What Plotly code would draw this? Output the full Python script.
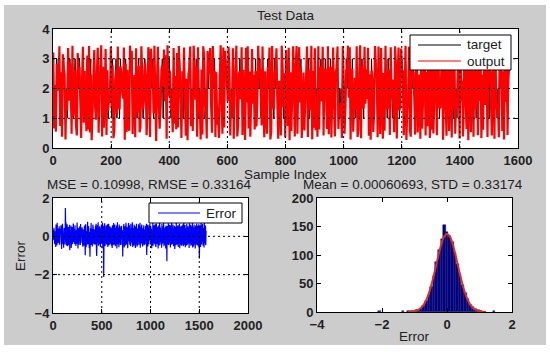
import plotly.graph_objects as go

# ---------------- data ----------------
sample_index = list(range(1, 1571, 3))

target = [
    3, 1, 2, 1, 3, 2, 2, 3, 1, 2,
    1, 3, 3, 2, 1, 2, 1, 3, 2, 3,
    2, 1, 3, 1, 2, 3, 1, 1, 3, 2,
    3, 2, 1, 2, 3, 1, 2, 2, 1, 3,
    1, 3, 2, 3, 1, 1, 2, 3, 2, 1,
    2, 3, 1, 2, 3, 3, 1, 2, 1, 2,
    3, 1, 2, 1, 2, 2, 3, 1, 3, 1,
    1, 2, 3, 1, 3, 2, 1, 3, 2, 2,
    2, 3, 1, 3, 1, 2, 1, 1, 3, 3,
    3, 1, 2, 2, 1, 3, 1, 2, 3, 1,
    1, 3, 2, 1, 2, 3, 2, 1, 1, 3,
    2, 1, 3, 2, 3, 1, 3, 2, 1, 2,
    3, 2, 1, 1, 2, 3, 1, 3, 2, 3,
    1, 3, 2, 3, 2, 1, 2, 1, 3, 1,
    2, 1, 3, 1, 3, 3, 2, 1, 2, 1,
    3, 2, 1, 2, 1, 2, 3, 3, 1, 2,
    1, 3, 2, 2, 3, 1, 3, 1, 2, 1,
    2, 1, 3, 1, 1, 2, 1, 3, 2, 3,
    3, 2, 1, 3, 2, 3, 1, 2, 1, 1,
    1, 2, 3, 2, 1, 3, 1, 3, 3, 2,
    2, 3, 2, 1, 2, 1, 3, 1, 2, 3,
    3, 1, 1, 2, 3, 2, 3, 1, 2, 1,
    1, 3, 2, 3, 1, 2, 1, 2, 3, 2,
    2, 1, 3, 1, 2, 3, 2, 3, 1, 1,
    3, 2, 1, 2, 1, 1, 3, 2, 3, 1,
    1, 3, 2, 1, 3, 2, 3, 2, 1, 2,
    2, 1, 3, 3, 1, 2, 1, 3, 2, 1,
    3, 1, 2, 1, 2, 3, 2, 1, 3, 3,
    1, 2, 3, 2, 3, 1, 1, 2, 1, 2,
    2, 3, 1, 3, 1, 2, 3, 1, 2, 1,
    3, 1, 2, 1, 3, 1, 2, 3, 2, 3,
    1, 2, 3, 2, 1, 3, 1, 2, 3, 1,
    1, 3, 2, 1, 2, 3, 3, 1, 2, 1,
    2, 1, 3, 2, 1, 1, 3, 2, 3, 2,
    3, 1, 2, 3, 1, 2, 2, 1, 3, 1,
    1, 2, 3, 1, 3, 2, 1, 3, 2, 2,
    2, 3, 1, 2, 1, 3, 2, 1, 1, 3,
    3, 2, 1, 3, 2, 1, 3, 2, 1, 2,
    1, 3, 2, 1, 3, 2, 1, 3, 2, 1,
    2, 1, 3, 3, 1, 2, 3, 1, 2, 3,
    3, 2, 1, 2, 3, 1, 1, 2, 3, 1,
    1, 3, 2, 3, 2, 1, 2, 3, 1, 2,
    2, 1, 3, 1, 2, 3, 3, 1, 2, 1,
    3, 2, 1, 2, 1, 3, 1, 2, 3, 2,
    1, 3, 3, 1, 2, 2, 3, 1, 2, 3,
    2, 1, 2, 3, 1, 3, 2, 1, 3, 1,
    3, 1, 2, 1, 3, 2, 1, 3, 2, 2,
    1, 2, 3, 2, 1, 3, 1, 2, 3, 1,
    2, 3, 1, 3, 2, 1, 2, 1, 3, 2,
    3, 1, 2, 1, 3, 2, 3, 2, 1, 3,
    1, 3, 2, 1, 2, 3, 1, 3, 2, 1,
    2, 1, 3, 2, 3, 1, 2, 1, 3, 2,
    3, 1, 2, 3,
]

# error = target - output
error = [
    -0.21, 0.34, -0.12, 0.45, 0.18, -0.38, 0.07, -0.42, 0.26, -0.55,
    0.62, -0.15, 0.33, -0.48, 0.71, 0.09, -0.27, -0.36, 0.41, 0.12,
    -0.31, 0.52, -0.44, -0.08, 0.37, 0.37, 0.23, 0.58, -0.19, -0.66,
    0.28, 0.47, 0.66, -0.35, -0.40, 0.15, -0.59, 0.31, 0.44, -0.11,
    0.38, -0.43, 1.48, 0.55, 0.74, -0.22, -0.47, -0.29, 0.63, 0.05,
    -0.52, -0.37, 0.49, 0.16, 0.42, -0.45, 0.61, -0.73, 0.32, 0.25,
    -0.33, 0.56, -0.61, -0.26, 0.19, 0.48, -0.40, -0.35, 0.22, 0.67,
    0.43, -0.29, 0.37, -0.14, -0.41, 0.58, -0.30, 0.26, -0.50, 0.11,
    0.34, -0.38, 0.72, 0.17, 0.46, -0.63, 0.29, 0.42, -0.44, 0.40,
    -0.27, 0.53, 0.06, -0.45, 0.64, -0.35, -0.18, 0.39, 0.24, 0.47,
    0.31, -0.42, -0.54, -0.29, 0.36, 0.13, -0.48, 0.57, -0.21, -0.39,
    -0.98, 0.63, -0.34, -0.57, 0.28, -0.16, -0.44, 0.41, 0.76, -0.23,
    -0.40, 0.53, 0.35, -0.47, -0.62, 0.22, -1.06, -0.31, 0.44, -0.12,
    0.69, -0.45, 0.27, 0.39, -0.53, -0.28, 0.61, 0.47, -0.36, 0.18,
    -0.42, 0.37, -0.19, 0.31, -0.43, 0.55, 0.32, 0.66, -0.58, -1.02,
    -0.38, 0.46, 0.59, -0.33, 0.74, -0.49, 0.34, -0.41, 0.27, 0.52,
    0.43, -0.44, -0.56, 0.38, 0.25, 0.62, -0.39, -0.21, 0.48, 0.71,
    -0.64, 0.55, -0.42, -2.12, -0.37, 0.44, 0.68, -0.26, -0.51, 0.35,
    -0.36, 0.57, 0.49, -0.43, -0.29, 0.41, 0.63, -0.55, 0.22, -0.34,
    0.66, -0.44, -0.45, 0.39, 0.52, -0.38, 0.31, -0.27, 0.46, -0.48,
    0.42, -0.40, -0.61, 0.58, 0.33, -0.46, -0.35, 0.69, -0.24, 0.37,
    -0.44, 0.61, 0.27, -0.52, 0.43, 0.36, -0.39, 0.56, -0.63, -0.31,
    0.73, -0.37, 0.46, -0.42, 0.34, -0.57, 0.62, 0.29, -0.33, 0.51,
    -0.45, 0.38, 0.41, 0.28, 0.55, -0.44, -0.36, 0.32, -1.05, 0.24,
    -0.41, 0.49, 0.64, -0.58, -0.27, 0.52, 0.28, -0.47, -0.38, 0.71,
    0.45, -0.43, 0.36, -0.31, 0.47, -0.62, -0.35, 0.54, 0.69, -0.26,
    0.33, 0.58, -0.44, 0.39, -0.36, -0.51, 0.65, -0.29, 0.42, 0.26,
    -0.37, 0.74, -0.55, 0.43, 0.31, -0.42, -0.48, 0.61, 0.35, -0.43,
    0.52, -0.61, -0.39, 0.47, 0.28, 0.66, -0.33, -0.54, 0.41, 0.37,
    -0.46, -0.41, 0.63, 0.36, -0.28, 0.55, -0.44, 0.71, -0.59, 0.32,
    -0.35, 0.40, 0.49, 0.62, -0.42, 0.38, -0.53, 0.27, 0.44, -0.40,
    0.58, -0.47, 0.33, 0.21, 0.36, -0.42, 0.54, -0.31, 0.27, 0.65,
    -0.97, -0.38, 0.44, 0.61, -0.53, 0.29, -0.41, 0.36, 0.57, -0.22,
    0.48, 0.66, -0.43, -0.35, 0.52, -0.27, 0.39, -0.62, -0.44, 0.31,
    -0.39, 0.71, -0.49, 0.34, 0.45, 0.58, -0.36, -0.28, -0.42, 0.63,
    0.38, -0.56, -0.45, 0.67, 0.26, 0.43, -0.33, -0.40, 0.51, -0.64,
    0.35, -0.37, 0.59, -0.48, 0.72, 0.41, -0.29, 0.46, -0.25, -0.43,
    0.33, -0.59, 0.64, -0.41, 0.47, 0.53, -0.36, 0.28, 0.69, -0.52,
    0.42, -0.44, 0.37, -0.31, 0.49, -0.63, 0.56, -0.39, 0.34, -1.30,
    0.54, 0.47, -0.42, 0.36, 0.68, -0.45, -0.38, -0.27, 0.61, -0.34,
    0.41, -0.58, 0.57, 0.33, -0.44, 0.73, -0.32, 0.46, -0.40, 0.38,
    0.62, -0.39, -0.51, 0.44, 0.29, 0.55, -0.66, -0.43, 0.48, 0.37,
    -0.47, 0.69, -0.41, 0.35, 0.52, 0.31, -0.44, 0.58, -0.55, 0.27,
    -0.36, 0.45, 0.66, -0.62, 0.39, -0.43, 0.51, 0.34, -0.28, -0.49,
    0.57, -0.42, 0.38, -0.34, 0.63, -0.51, -0.39, 0.72, 0.27, -0.44,
    0.46, 0.59, -0.57, -0.35, 0.43, 0.32, -0.48, 0.65, -0.41, -0.29,
    -0.43, 0.52, 0.37, -0.33, 0.41, -0.61, 0.68, -0.38, 0.44, -0.26,
    0.61, -0.49, -0.40, 0.53, 0.36, -0.45, 0.74, -0.58, 0.31, 0.47,
    -0.53, 0.35, 0.62, -0.42, 0.48, -0.31, -0.63, 0.57, -0.37, 0.42,
    -0.41, 0.66, -0.46, 0.39, 0.28, 0.55, -0.44, -0.52, 0.63, 0.34,
    -1.15, -0.39, 0.47, 0.58, -0.55, 0.31, 0.69, -0.43, 0.36, -0.28,
    0.52, 0.64, -0.42, -0.49, 0.37, 0.43, -0.58, 0.71, -0.35, 0.45,
    -0.38, 0.56, -0.47, 0.29,
]

n = min(len(sample_index), len(target), len(error))
sample_index, target, error = sample_index[:n], target[:n], error[:n]
output = [t - e for t, e in zip(target, error)]

hist_centers = [-2.08, -1.36,
                -1.20, -1.12, -1.04, -0.96, -0.88, -0.80, -0.72, -0.64, -0.56, -0.48,
                -0.40, -0.32, -0.24, -0.16, -0.08, 0.00, 0.08, 0.16, 0.24, 0.32,
                0.40, 0.48, 0.56, 0.64, 0.72, 0.80, 0.88, 0.96, 1.04,
                1.44]
hist_counts = [1, 1,
               1, 1, 2, 3, 4, 6, 11, 19, 30, 44,
               63, 88, 108, 128, 152, 140, 133, 122, 104, 84,
               66, 48, 33, 22, 13, 8, 5, 3, 1,
               2]

fit_x = [-1.2, -1.1, -1.0, -0.9, -0.8, -0.7, -0.6, -0.5, -0.4, -0.3, -0.2, -0.1,
         0.0, 0.1, 0.2, 0.3, 0.4, 0.5, 0.6, 0.7, 0.8, 0.9, 1.0, 1.1, 1.2]
fit_y = [0.2, 0.5, 1.4, 3.3, 7.3, 14.4, 26.2, 43.5, 65.7, 90.6, 114, 131,
         137, 131, 114, 90.6, 65.7, 43.5, 26.2, 14.4, 7.3, 3.3, 1.4, 0.5, 0.2]

top_xticks = [0, 200, 400, 600, 800, 1000, 1200, 1400, 1600]
top_yticks = [0, 1, 2, 3, 4]
bl_xticks = [0, 500, 1000, 1500, 2000]
bl_yticks = [-4, -2, 0, 2]
br_xticks = [-4, -2, 0, 2]
br_yticks = [0, 50, 100, 150, 200]

top_legend = ["target", "output"]
bl_legend = ["Error"]

# ---------------- figure ----------------
W, H = 550, 352
FONT = "Liberation Sans, Arial, sans-serif"
TXT = "#222222"
C_TARGET, C_OUTPUT, C_ERR = "black", "#ff0000", "#0000ff"

fig = go.Figure()

fig.add_trace(go.Scatter(x=sample_index, y=target, mode="lines", name="target",
                         line=dict(color=C_TARGET, width=1, simplify=False),
                         xaxis="x", yaxis="y", showlegend=False))
fig.add_trace(go.Scatter(x=sample_index, y=output, mode="lines", name="output",
                         line=dict(color=C_OUTPUT, width=2.2, simplify=False),
                         xaxis="x", yaxis="y", showlegend=False))
fig.add_trace(go.Scatter(x=sample_index, y=error, mode="lines", name="Error",
                         line=dict(color=C_ERR, width=1.2, simplify=False),
                         xaxis="x2", yaxis="y2", showlegend=False))
fig.add_trace(go.Bar(x=hist_centers, y=hist_counts, width=0.08, showlegend=False,
                     marker=dict(color="#000080", line=dict(color="#1a1a70", width=0.5)),
                     xaxis="x3", yaxis="y3"))
fig.add_trace(go.Scatter(x=fit_x, y=fit_y, mode="lines", showlegend=False,
                         line=dict(color="#e0301a", width=2, shape="spline"),
                         xaxis="x3", yaxis="y3"))


def px_x(p):
    return p / W


def px_y(p):
    return 1 - p / H


axis_common = dict(showline=True, linecolor="black", linewidth=1, mirror="ticks",
                   ticks="inside", ticklen=4, tickcolor="black", showgrid=False,
                   zeroline=False, automargin=False,
                   tickfont=dict(family=FONT, size=13, color=TXT, weight="bold"),
                   fixedrange=True)

fig.update_layout(
    width=W, height=H,
    margin=dict(l=0, r=0, t=0, b=0, pad=0),
    paper_bgcolor="#cccccc",
    plot_bgcolor="white",
    bargap=0,
    showlegend=False,
    font=dict(family=FONT, color=TXT),
    xaxis=dict(domain=[px_x(53), px_x(518)], range=[0, 1600], tickvals=top_xticks,
               anchor="y", **axis_common),
    yaxis=dict(domain=[px_y(148), px_y(29)], range=[0, 4], tickvals=top_yticks,
               anchor="x", **axis_common),
    xaxis2=dict(domain=[px_x(53), px_x(248)], range=[0, 2000], tickvals=bl_xticks,
                anchor="y2", **axis_common),
    yaxis2=dict(domain=[px_y(313), px_y(198)], range=[-4, 2], tickvals=bl_yticks,
                anchor="x2", **axis_common),
    xaxis3=dict(domain=[px_x(317), px_x(512)], range=[-4, 2], tickvals=br_xticks,
                anchor="y3", **axis_common),
    yaxis3=dict(domain=[px_y(312), px_y(198)], range=[0, 200], tickvals=br_yticks,
                anchor="x3", **axis_common),
)

shapes = []
# white outer border around the gray figure area
for (x0, y0, x1, y1) in [(0, 0, 4, H), (546, 0, W, H), (0, 0, W, 5), (0, 345, W, H)]:
    shapes.append(dict(type="rect", xref="paper", yref="paper",
                       x0=px_x(x0), x1=px_x(x1), y0=px_y(y1), y1=px_y(y0),
                       fillcolor="white", line=dict(width=0), layer="above"))

grid_line = dict(color="black", width=1, dash="2px,3px")
for v in top_xticks[1:-1]:
    shapes.append(dict(type="line", xref="x", yref="y domain", x0=v, x1=v, y0=0, y1=1,
                       line=grid_line, layer="above"))
for v in top_yticks[1:-1]:
    shapes.append(dict(type="line", xref="x domain", yref="y", x0=0, x1=1, y0=v, y1=v,
                       line=grid_line, layer="above"))
for v in bl_xticks[1:-1]:
    shapes.append(dict(type="line", xref="x2", yref="y2 domain", x0=v, x1=v, y0=0, y1=1,
                       line=grid_line, layer="above"))
for v in bl_yticks[1:-1]:
    shapes.append(dict(type="line", xref="x2 domain", yref="y2", x0=0, x1=1, y0=v, y1=v,
                       line=grid_line, layer="above"))

lbl = dict(family=FONT, size=13.5, color=TXT)
annotations = []


def add_legend(box, rows, names, colors):
    bx0, by0, bx1, by1 = box
    shapes.append(dict(type="rect", xref="paper", yref="paper",
                       x0=px_x(bx0), x1=px_x(bx1), y0=px_y(by1), y1=px_y(by0),
                       fillcolor="white", line=dict(color="black", width=1), layer="above"))
    for (lx0, lx1, ty, tx), name, col in zip(rows, names, colors):
        shapes.append(dict(type="line", xref="paper", yref="paper",
                           x0=px_x(lx0), x1=px_x(lx1), y0=px_y(ty), y1=px_y(ty),
                           line=dict(color=col, width=1), layer="above"))
        annotations.append(dict(text=name, x=px_x(tx), y=px_y(ty), xref="paper",
                                yref="paper", showarrow=False, font=lbl,
                                xanchor="left", yanchor="middle"))


add_legend((410, 35, 511, 70), [(418, 461, 45, 465), (418, 461, 61, 465)],
           top_legend, [C_TARGET, C_OUTPUT])
add_legend((149, 203, 242, 223), [(158, 200, 213, 204)], bl_legend, [C_ERR])

fig.update_layout(shapes=shapes)

annotations += [
    dict(text="Test Data", x=px_x(285.5), y=px_y(16), xref="paper", yref="paper",
         showarrow=False, font=lbl, xanchor="center", yanchor="middle"),
    dict(text="Sample Index", x=px_x(285.5), y=px_y(175), xref="paper", yref="paper",
         showarrow=False, font=lbl, xanchor="center", yanchor="middle"),
    dict(text="MSE = 0.10998, RMSE = 0.33164", x=px_x(149), y=px_y(184), xref="paper",
         yref="paper", showarrow=False, font=lbl, xanchor="center", yanchor="middle"),
    dict(text="Mean = 0.00060693, STD = 0.33174", x=px_x(413), y=px_y(184), xref="paper",
         yref="paper", showarrow=False, font=lbl, xanchor="center", yanchor="middle"),
    dict(text="Error", x=px_x(20), y=px_y(256), xref="paper", yref="paper",
         showarrow=False, font=lbl, textangle=-90, xanchor="center", yanchor="middle"),
    dict(text="Error", x=px_x(414), y=px_y(336), xref="paper", yref="paper",
         showarrow=False, font=lbl, xanchor="center", yanchor="middle"),
]
fig.update_layout(annotations=annotations)

fig.write_html("out.html", config={"displayModeBar": False},
               post_script="document.body.style.margin='0';")
